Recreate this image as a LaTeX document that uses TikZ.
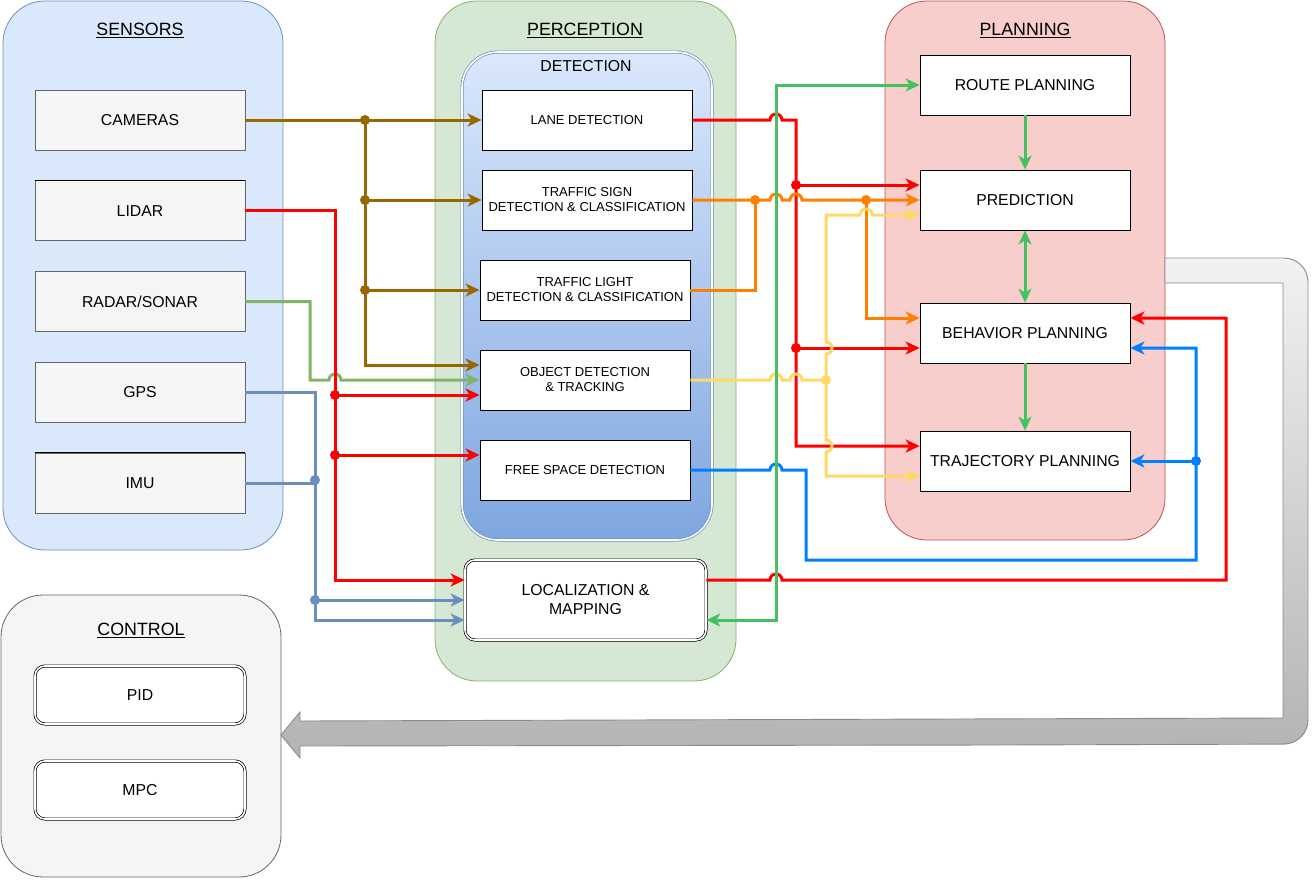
\documentclass[tikz,border=0pt]{standalone}
\usepackage{fontspec}
\setmainfont{Liberation Sans}
\usetikzlibrary{arrows.meta,positioning,calc}
\definecolor{azulgrupo}{HTML}{DAE8FC}
\definecolor{azulborde}{HTML}{6C8EBF}
\definecolor{azuldet}{HTML}{7EA6E0}
\definecolor{verdegrupo}{HTML}{D5E8D4}
\definecolor{verdeborde}{HTML}{82B366}
\definecolor{rojogrupo}{HTML}{F8CECC}
\definecolor{rojoborde}{HTML}{B85450}
\definecolor{grisgrupo}{HTML}{F5F5F5}
\definecolor{grisborde}{HTML}{666666}
\definecolor{grisclaro}{HTML}{F2F2F2}
\definecolor{grisoscuro}{HTML}{B3B3B3}
\definecolor{grisflecha}{HTML}{8A8A8A}
\definecolor{marron}{HTML}{996600}
\definecolor{rojo}{HTML}{FF0000}
\definecolor{naranja}{HTML}{FF8000}
\definecolor{amarillo}{HTML}{FFD966}
\definecolor{verde}{HTML}{45C160}
\definecolor{azul}{HTML}{007FFF}
\definecolor{olivo}{HTML}{82B366}
\newcommand{\salto}[2]{-- (#1-6,#2) arc[start angle=180,end angle=0,radius=6pt]}
\newcommand{\saltoabajo}[2]{-- (#1,#2-6) arc[start angle=90,end angle=-90,radius=6pt]}
\newcommand{\saltoarriba}[2]{-- (#1,#2+6) arc[start angle=-90,end angle=90,radius=6pt]}
\tikzset{
  grupo/.style={rounded corners=42pt,line width=0.8pt,inner sep=0pt},
  titulo/.style={font=\fontsize{17.8}{20}\selectfont,inner sep=0pt},
  caja/.style={draw=black,fill=white,line width=0.8pt,minimum width=210pt,minimum height=60pt,align=center,inner sep=2pt,font=\fontsize{15.8}{19}\selectfont},
  cajasensor/.style={caja,draw=grisborde,fill=grisgrupo},
  cajadet/.style={caja,font=\fontsize{13}{15}\selectfont},
  cajadoble/.style={caja,rounded corners=10pt,double=white,double distance=1.6pt,line width=0.7pt},
  linea/.style={line width=3pt},
  flecha/.style={linea,-{Stealth[length=14pt,width=13pt,inset=4pt]}},
  flechas/.style={linea,{Stealth[length=14pt,width=13pt,inset=4pt]}-{Stealth[length=14pt,width=13pt,inset=4pt]}},
  flechagrande/.style={draw=grisflecha,line width=0.9pt,top color=grisclaro,bottom color=grisoscuro},
}

\begin{document}
\begin{tikzpicture}[x=1pt,y=-1pt]
  \useasboundingbox (0,0) rectangle (1315,881);
  % grupos
  \node[grupo,draw=azulborde,fill=azulgrupo,minimum width=280pt,minimum height=549pt] (sens) at (143,275.5) {};
  \node[grupo,draw=verdeborde,fill=verdegrupo,minimum width=301pt,minimum height=680pt] (perc) at (585.5,341) {};
  \node[grupo,draw=rojoborde,fill=rojogrupo,minimum width=280pt,minimum height=539pt] (plan) at (1025,270.5) {};
  \node[grupo,draw=grisborde,fill=grisgrupo,minimum width=280pt,minimum height=282pt] (ctrl) at (141,736) {};
  \node[grupo,rounded corners=36pt,draw=azulborde,double=white,double distance=1.6pt,line width=0.7pt,top color=azulgrupo,bottom color=azuldet,minimum width=250pt,minimum height=488pt] (det) at (587,296) {};
  \node[titulo] (tsens) at (140,30) {\underline{SENSORS}};
  \node[titulo] (tperc) at (585,30) {\underline{PERCEPTION}};
  \node[titulo] (tplan) at (1025,30) {\underline{PLANNING}};
  \node[titulo] (tctrl) at (141,630) {\underline{CONTROL}};
  \node[inner sep=0pt,font=\fontsize{15.8}{19}\selectfont] (tdet) at (586,66) {DETECTION};

  % sensores
  \node[cajasensor] (cam) at (140,120) {CAMERAS};
  \node[cajasensor,below=30pt of cam] (lidar) {LIDAR};
  \node[cajasensor,below=30pt of lidar] (radar) {RADAR/SONAR};
  \node[cajasensor,below=30pt of radar] (gps) {GPS};
  \node[cajasensor,below=30pt of gps] (imu) {IMU};
  \draw[line width=0.8pt] (lidar.north west) -- (lidar.north east);
  \draw[line width=0.8pt] (imu.north west) -- (imu.north east);

  % percepcion
  \node[cajadet] (lane) at (587,120) {LANE DETECTION};
  \node[cajadet] (sign) at (587,200) {TRAFFIC SIGN\\DETECTION \& CLASSIFICATION};
  \node[cajadet] (light) at (585,290) {TRAFFIC LIGHT\\DETECTION \& CLASSIFICATION};
  \node[cajadet] (obj) at (585,380) {OBJECT DETECTION\\\& TRACKING};
  \node[cajadet] (free) at (585,470) {FREE SPACE DETECTION};
  \node[cajadoble,minimum width=241pt,minimum height=80pt] (loc) at (585.5,600) {LOCALIZATION \&\\MAPPING};

  % planificacion
  \node[caja] (route) at (1025,85) {ROUTE PLANNING};
  \node[caja] (pred) at (1025,200) {PREDICTION};
  \node[caja] (beh) at (1025,333) {BEHAVIOR PLANNING};
  \node[caja] (traj) at (1025,461) {TRAJECTORY PLANNING};

  % control
  \node[cajadoble,minimum height=58pt] (pid) at (140,695) {PID};
  \node[cajadoble,minimum height=58pt] (mpc) at (140,790) {MPC};

  % flecha de planificacion a control
  \path[flechagrande] (281,735) -- (300,712) -- (300,721) -- (1283,718) -- (1283,283) -- (1165,283) -- (1165,258) -- (1200,258)
    [rounded corners=24pt] -- (1308,258) -- (1308,744) -- (1000,745) [sharp corners] -- (300,746) -- (300,758) -- cycle;

  % sensores -> percepcion
  \draw[flecha,marron] (cam.east) -- (lane.west);
  \draw[flecha,marron] (365,120) |- ([yshift=15pt]obj.west);
  \draw[flecha,marron] (365,200) -- (sign.west);
  \draw[flecha,marron] (365,290) -- (light.west);
  \foreach \y in {120,200,290} \fill[marron] (365,\y) circle (5pt);
  \draw[flecha,olivo] (radar.east) -| (310,380) \salto{335}{380} -- (obj.west);
  \draw[flecha,rojo] (lidar.east) -| (335,580) -- ([yshift=20pt]loc.west);
  \draw[flecha,rojo] (335,395) -- ([yshift=-15pt]obj.west);
  \draw[flecha,rojo] (335,455) -- ([yshift=15pt]free.west);
  \foreach \y in {395,455} \fill[rojo] (335,\y) circle (5pt);
  \draw[flecha,azulborde] (gps.east) -| (315,620) -- ([yshift=-20pt]loc.west);
  \draw[flecha,azulborde] (imu.east) -| (315,600) -- (loc.west);
  \foreach \y in {480,600} \fill[azulborde] (315,\y) circle (5pt);

  % percepcion -> planificacion
  \draw[flecha,rojo] (lane.east) \salto{776}{120} -- (796,120) |- ([yshift=15pt]traj.west);
  \draw[flecha,rojo] (796,185) -- ([yshift=15pt]pred.west);
  \draw[flecha,rojo] (796,348) -- ([yshift=-15pt]beh.west);
  \foreach \y in {185,348} \fill[rojo] (796,\y) circle (5pt);
  \draw[flecha,naranja] (sign.east) \salto{776}{200} \salto{796}{200} -- (pred.west);
  \draw[linea,naranja] (light.east) -| (755,200);
  \draw[flecha,naranja] (866,200) |- ([yshift=15pt]beh.west);
  \foreach \x in {755,866} \fill[naranja] (\x,200) circle (5pt);
  \draw[flecha,amarillo] (obj.east) \salto{776}{380} \salto{796}{380} -- (826,380) \saltoarriba{826}{348} -- (826,215) \salto{866}{215} -- ([yshift=-15pt]pred.west);
  \draw[flecha,amarillo] (826,380) \saltoabajo{826}{446} -- (826,476) -- ([yshift=-15pt]traj.west);
  \fill[amarillo] (826,380) circle (5pt);
  \draw[flecha,azul] (free.east) \salto{776}{470} -- (806,470) -- (806,560) -- (1196,560) -- (1196,348) -- ([yshift=-15pt]beh.east);
  \draw[flecha,azul] (1196,461) -- (traj.east);
  \fill[azul] (1196,461) circle (5pt);
  \draw[flecha,rojo] ([yshift=20pt]loc.east) \salto{776}{580} -- (1226,580) |- ([yshift=15pt]beh.east);
  \draw[flechas,verde] ([yshift=-20pt]loc.east) -| (776,85) -- (route.west);

  % dentro de planificacion
  \draw[flecha,verde] (route.south) -- (pred.north);
  \draw[flechas,verde] (pred.south) -- (beh.north);
  \draw[flecha,verde] (beh.south) -- (traj.north);
\end{tikzpicture}
\end{document}
